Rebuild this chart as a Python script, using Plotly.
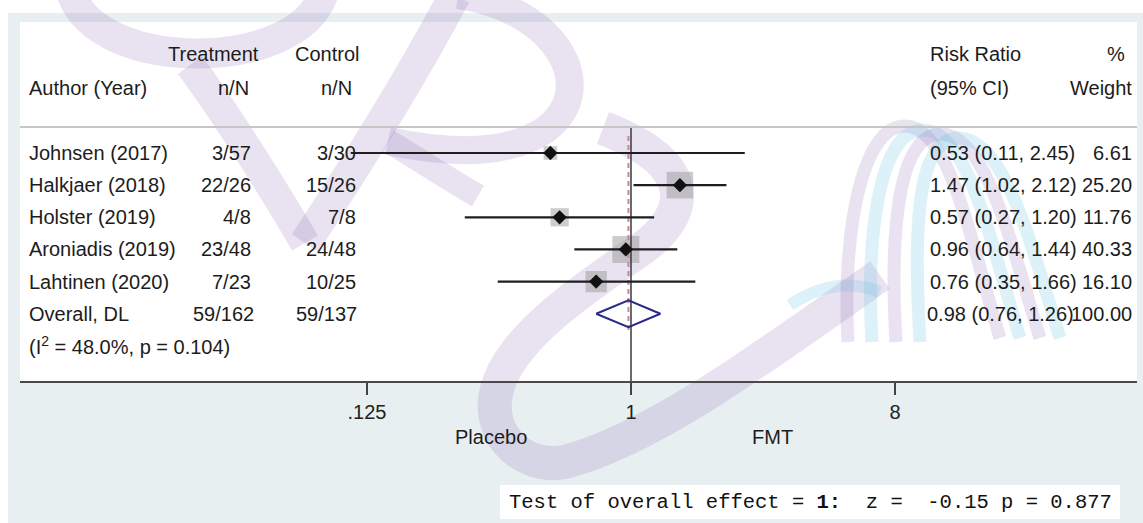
import math
import plotly.graph_objects as go

# ---------------- data ----------------
authors = ["Johnsen (2017)", "Halkjaer (2018)", "Holster (2019)", "Aroniadis (2019)", "Lahtinen (2020)"]
treat_events = [3, 22, 4, 23, 7]
treat_total = [57, 26, 8, 48, 23]
ctrl_events = [3, 15, 7, 24, 10]
ctrl_total = [30, 26, 8, 48, 25]
rr = [0.53, 1.47, 0.57, 0.96, 0.76]
rr_low = [0.11, 1.02, 0.27, 0.64, 0.35]
rr_high = [2.45, 2.12, 1.20, 1.44, 1.66]
weights = [6.61, 25.20, 11.76, 40.33, 16.10]

overall_label = "Overall, DL"
overall_rr = 0.98
overall_low = 0.76
overall_high = 1.26
heterogeneity = "(I<sup>2</sup> = 48.0%, p = 0.104)"

tick_vals = [0.125, 1, 8]
tick_text = [".125", "1", "8"]
favours = ["Placebo", "FMT"]
test_text = ("Test\u00a0of\u00a0overall\u00a0effect\u00a0=\u00a0<b>1:</b>\u00a0\u00a0z\u00a0=\u00a0\u00a0"
             "-0.15\u00a0p\u00a0=\u00a00.877")

# ---------------- layout geometry ----------------
FIG_W, FIG_H = 1143, 523
L, R, T, B = 20, 1137, 22, 381          # white panel / plot area in pixels
ROW0_PX, ROW_H = 153, 32.15             # pixel centre of first study row, row pitch
Y_TOP = (T - ROW0_PX) / ROW_H
Y_BOT = (B - ROW0_PX) / ROW_H
PX_ONE, PX_PER_LOG2 = 631, 88
X_LEFT = math.log10(2) * (L - PX_ONE) / PX_PER_LOG2
X_RIGHT = math.log10(2) * (R - PX_ONE) / PX_PER_LOG2


def px(x):
    return (x - L) / (R - L)


def py(y):
    return (B - y) / (B - T)


def row_of(ypix):
    return (ypix - ROW0_PX) / ROW_H


def path_str(segs):
    out = []
    for cmd, *pts in segs:
        out.append(cmd + " ".join(f"{px(x):.5f},{py(y):.5f}" for x, y in pts))
    return " ".join(out)


FONT = "Liberation Sans, Arial, sans-serif"
TXT = "#1c1c1c"
FS = 20

n = len(authors)
rows = list(range(n))
overall_row = n
het_row = n + 1

fig = go.Figure()

# weight squares
sizes = [min(27, 5.3 * math.sqrt(w)) for w in weights]
fig.add_trace(go.Scatter(x=rr, y=rows, mode="markers",
                         marker=dict(symbol="square", size=sizes, color="rgba(135,135,135,0.6)",
                                     line=dict(width=0)),
                         hoverinfo="skip", showlegend=False))

# null line at 1
fig.add_trace(go.Scatter(x=[1, 1], y=[row_of(128), Y_BOT], mode="lines",
                         line=dict(color="#3a3a3a", width=1.5), hoverinfo="skip", showlegend=False))
# overall effect dashed line
fig.add_trace(go.Scatter(x=[overall_rr, overall_rr], y=[row_of(136), row_of(331)], mode="lines",
                         line=dict(color="#c4879b", width=2, dash="5px,4px"),
                         hoverinfo="skip", showlegend=False))

# CI lines
cx, cy = [], []
for i in range(n):
    cx += [rr_low[i], rr_high[i], None]
    cy += [rows[i], rows[i], None]
fig.add_trace(go.Scatter(x=cx, y=cy, mode="lines", line=dict(color="#1e1e1e", width=2.2),
                         hoverinfo="skip", showlegend=False))
# point estimates
fig.add_trace(go.Scatter(x=rr, y=rows, mode="markers",
                         marker=dict(symbol="diamond", size=11, color="#111111"),
                         hoverinfo="skip", showlegend=False))
# overall diamond
h = 0.42
fig.add_trace(go.Scatter(x=[overall_low, overall_rr, overall_high, overall_rr, overall_low],
                         y=[overall_row, overall_row - h, overall_row, overall_row + h, overall_row],
                         mode="lines", line=dict(color="#2a2a8a", width=2),
                         hoverinfo="skip", showlegend=False))

# ---------------- shapes: background, watermark ----------------
shapes = []
shapes.append(dict(type="rect", xref="paper", yref="paper", layer="below",
                   x0=px(8), x1=px(FIG_W + 5), y0=py(13), y1=py(FIG_H + 5),
                   fillcolor="#e8eff1", line=dict(width=0)))
shapes.append(dict(type="rect", xref="paper", yref="paper", layer="below",
                   x0=0, x1=1, y0=0, y1=1, fillcolor="white", line=dict(width=0)))

LAV = "rgba(120,80,170,0.16)"
BLU = "rgba(100,190,225,0.22)"
wm = [
    (LAV, 30, [("M", (72, -5)), ("C", (100, 73), (295, 73), (323, -5))]),
    (LAV, 30, [("M", (190, 65)), ("C", (232, 122), (280, 200), (305, 243))]),
    (LAV, 32, [("M", (305, 243)), ("C", (360, 160), (410, 80), (455, -5))]),
    (LAV, 28, [("M", (458, -5)), ("C", (560, 10), (600, 90), (545, 130)),
               ("C", (500, 160), (430, 150), (388, 141))]),
    (LAV, 24, [("M", (388, 141)), ("C", (420, 160), (450, 180), (478, 196))]),
    (LAV, 34, [("M", (603, 128)), ("C", (700, 165), (690, 215), (640, 250)),
               ("C", (590, 285), (520, 330), (500, 380)),
               ("C", (480, 430), (520, 470), (565, 462)),
               ("C", (650, 440), (760, 360), (880, 275))]),
    (BLU, 12, [("M", (790, 305)), ("C", (820, 285), (850, 280), (880, 292))]),
]
for k in range(4):
    lx = 848 + 24 * k
    rx = 1000 + 20 * k
    tx = 905 + 18 * k
    ty = 126 + 4 * k
    col = LAV if k % 2 == 0 else BLU
    wm.append((col, 13, [("M", (lx, 342)), ("C", (lx - 6, 240), (tx - 45, ty), (tx, ty)),
                         ("C", (tx + 45, ty), (rx - 30, 240), (rx, 338))]))
for col, wid, segs in wm:
    shapes.append(dict(type="path", xref="paper", yref="paper", layer="below",
                       path=path_str(segs), line=dict(color=col, width=wid)))

# white box for test text
shapes.append(dict(type="rect", xref="paper", yref="paper", layer="below",
                   x0=px(500), x1=px(1120), y0=py(519), y1=py(485),
                   fillcolor="white", line=dict(width=0)))
# header separator
shapes.append(dict(type="line", xref="paper", yref="y", layer="below",
                   x0=0, x1=1, y0=row_of(127), y1=row_of(127),
                   line=dict(color="#c6c6c6", width=2)))

# ---------------- annotations ----------------
anns = []


def ann(text, xpix, yrow, anchor, yref="y", font=None):
    anns.append(dict(text=text, x=px(xpix), y=yrow, xref="paper", yref=yref,
                     xanchor=anchor, yanchor="middle", showarrow=False,
                     font=font or dict(family=FONT, size=FS, color=TXT)))


h1, h2 = row_of(54), row_of(88)
ann("Treatment", 261, h1, "right")
ann("Control", 361, h1, "right")
ann("Author (Year)", 27, h2, "left")
ann("n/N", 251, h2, "right")
ann("n/N", 354, h2, "right")
ann("Risk Ratio", 928, h1, "left")
ann("(95% CI)", 928, h2, "left")
ann("%", 1127, h1, "right")
ann("Weight", 1134, h2, "right")

for i in range(n):
    ann(authors[i], 27, rows[i], "left")
    ann(f"{treat_events[i]}/{treat_total[i]}", 253, rows[i], "right")
    ann(f"{ctrl_events[i]}/{ctrl_total[i]}", 358, rows[i], "right")
    ann(f"{rr[i]:.2f} ({rr_low[i]:.2f}, {rr_high[i]:.2f})", 928, rows[i], "left")
    ann(f"{weights[i]:.2f}", 1134, rows[i], "right")

ann(overall_label, 27, overall_row, "left")
ann(f"{sum(treat_events)}/{sum(treat_total)}", 256, overall_row, "right")
ann(f"{sum(ctrl_events)}/{sum(ctrl_total)}", 359, overall_row, "right")
ann(f"{overall_rr:.2f} ({overall_low:.2f}, {overall_high:.2f})", 925, overall_row, "left")
ann(f"{sum(weights):.2f}", 1134, overall_row, "right")
ann(heterogeneity, 27, het_row, "left")

ann(favours[0], 491, py(437), "center", yref="paper")
ann(favours[1], 772, py(437), "center", yref="paper")
ann(test_text, 507, py(502), "left", yref="paper",
    font=dict(family="Liberation Mono, DejaVu Sans Mono, monospace", size=20.5, color="#111"))

fig.update_layout(
    width=FIG_W, height=FIG_H,
    margin=dict(l=L, r=FIG_W - R, t=T, b=FIG_H - B, pad=0),
    paper_bgcolor="white", plot_bgcolor="rgba(0,0,0,0)",
    showlegend=False,
    shapes=shapes, annotations=anns,
    xaxis=dict(type="log", range=[X_LEFT, X_RIGHT], tickvals=tick_vals, ticktext=tick_text,
               showgrid=False, zeroline=False, showline=True, linecolor="#4a4a4a", linewidth=2,
               ticks="outside", ticklen=12, tickwidth=1.5, tickcolor="#444",
               tickfont=dict(family=FONT, size=FS, color="#222"), fixedrange=True),
    yaxis=dict(range=[Y_BOT, Y_TOP], visible=False, fixedrange=True),
)

fig.write_html("out.html")
